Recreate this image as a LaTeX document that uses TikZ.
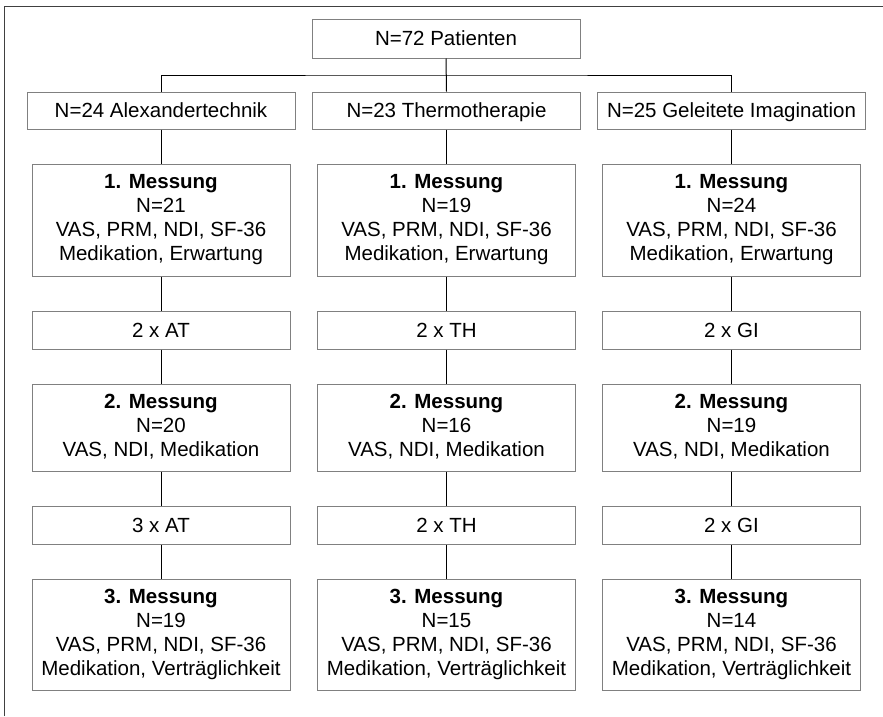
\documentclass[tikz,border=0pt]{standalone}
\usepackage{fontspec}
\setmainfont{Liberation Sans}
\usetikzlibrary{positioning}
\definecolor{boxgray}{RGB}{128,128,128}
\definecolor{framegray}{RGB}{64,64,64}
\tikzset{
  box/.style={draw=boxgray, line width=1pt, rectangle, minimum width=258pt, align=center, inner sep=0pt,
    font=\fontsize{20.5}{24}\selectfont,
    execute at begin node={\rule{0pt}{19.7pt}}, execute at end node={\rule[-5pt]{0pt}{5pt}}},
  grpbox/.style={box, minimum width=268pt, minimum height=37pt},
  treatbox/.style={box, minimum height=38pt},
  messbox/.style={box, minimum height=112pt},
  link/.style={draw=black, line width=1pt}
}

\begin{document}
\begin{tikzpicture}[x=1pt, y=-1pt, node distance=34pt]
\useasboundingbox (0,0) rectangle (883,716);
% frame
\draw[framegray, line width=1.5pt] (4.5,716) -- (4.5,6.5) -- (883,6.5);

\node[grpbox, minimum height=39pt] (patients) at (446,38.5) {N=72 Patienten};
\node[grpbox] (grpAT) at (161,110.5) {N=24 Alexandertechnik};
\node[grpbox] (grpTH) at (446.5,110.5) {N=23 Thermotherapie};
\node[grpbox] (grpGI) at (731.5,110.5) {N=25 Geleitete Imagination};

% Alexandertechnik
\node[messbox, below=of grpAT] (mAT1) {\textbf{1. Messung}\\N=21\\VAS, PRM, NDI, SF-36\\Medikation, Erwartung};
\node[treatbox, below=of mAT1] (tAT1) {2 x AT};
\node[messbox, minimum height=87pt, below=of tAT1] (mAT2) {\textbf{2. Messung}\\N=20\\VAS, NDI, Medikation};
\node[treatbox, below=of mAT2] (tAT2) {3 x AT};
\node[messbox, minimum height=111pt, below=of tAT2] (mAT3) {\textbf{3. Messung}\\N=19\\VAS, PRM, NDI, SF-36\\Medikation, Verträglichkeit};

% Thermotherapie
\node[messbox, below=of grpTH] (mTH1) {\textbf{1. Messung}\\N=19\\VAS, PRM, NDI, SF-36\\Medikation, Erwartung};
\node[treatbox, below=of mTH1] (tTH1) {2 x TH};
\node[messbox, minimum height=87pt, below=of tTH1] (mTH2) {\textbf{2. Messung}\\N=16\\VAS, NDI, Medikation};
\node[treatbox, below=of mTH2] (tTH2) {2 x TH};
\node[messbox, minimum height=111pt, below=of tTH2] (mTH3) {\textbf{3. Messung}\\N=15\\VAS, PRM, NDI, SF-36\\Medikation, Verträglichkeit};

% Geleitete Imagination
\node[messbox, below=of grpGI] (mGI1) {\textbf{1. Messung}\\N=24\\VAS, PRM, NDI, SF-36\\Medikation, Erwartung};
\node[treatbox, below=of mGI1] (tGI1) {2 x GI};
\node[messbox, minimum height=87pt, below=of tGI1] (mGI2) {\textbf{2. Messung}\\N=19\\VAS, NDI, Medikation};
\node[treatbox, below=of mGI2] (tGI2) {2 x GI};
\node[messbox, minimum height=111pt, below=of tGI2] (mGI3) {\textbf{3. Messung}\\N=14\\VAS, PRM, NDI, SF-36\\Medikation, Verträglichkeit};

% connectors
\coordinate (split) at (446.5,75);
\draw[link] (patients.south) -- (grpTH.north);
\draw[link] (grpAT.north) |- (split) -| (grpGI.north);
\foreach \g in {AT,TH,GI} {
  \draw[link] (grp\g.south) -- (m\g1.north);
  \draw[link] (m\g1.south) -- (t\g1.north);
  \draw[link] (t\g1.south) -- (m\g2.north);
  \draw[link] (m\g2.south) -- (t\g2.north);
  \draw[link] (t\g2.south) -- (m\g3.north);
}
\end{tikzpicture}
\end{document}
